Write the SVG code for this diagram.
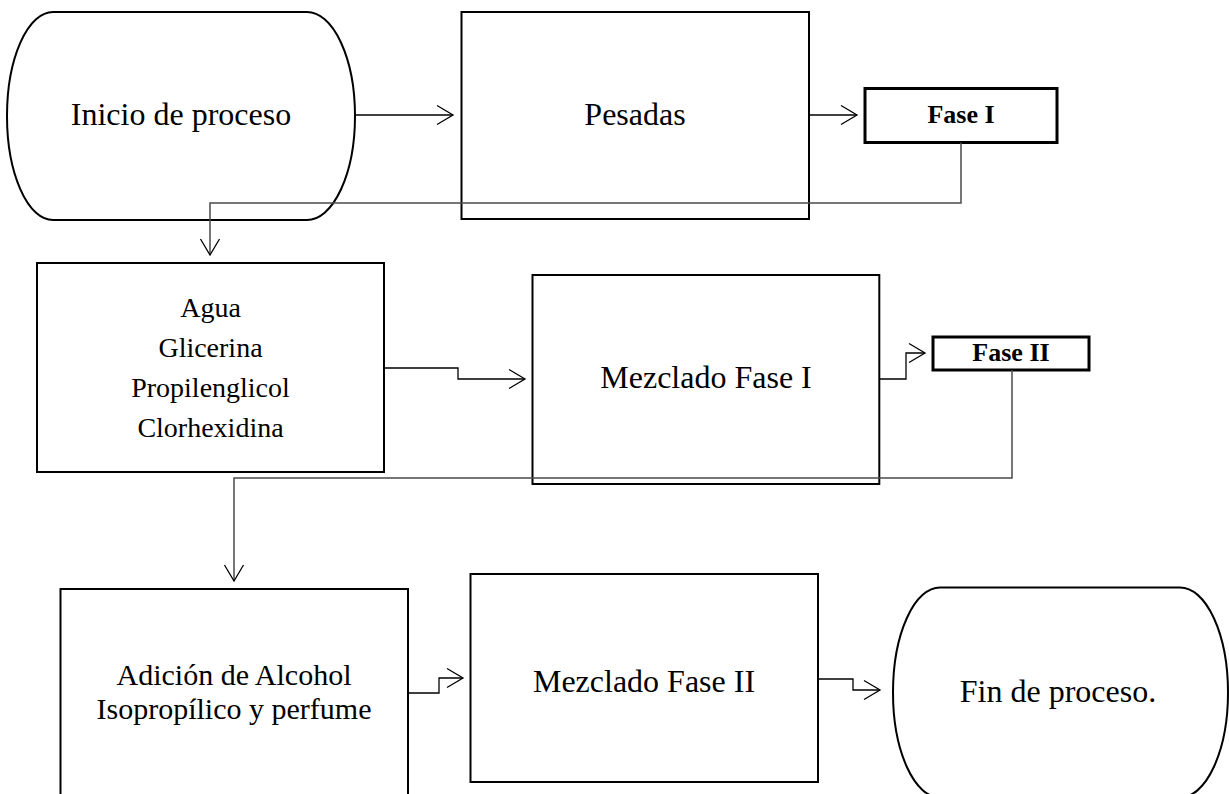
<svg xmlns="http://www.w3.org/2000/svg" width="1229" height="794" viewBox="0 0 1229 794">
  <style>
    .box { fill: #fff; stroke: #000; stroke-width: 2; }
    .tag { fill: #fff; stroke: #000; stroke-width: 3; }
    .lbl { font-family: "Liberation Serif", "Times New Roman", serif; font-size: 32px; fill: #000; text-anchor: middle; }
    .sm { font-size: 28px; }
    .mid { font-size: 30px; }
    .bold { font-family: "Liberation Serif", "Times New Roman", serif; font-size: 26px; font-weight: bold; fill: #000; text-anchor: middle; }
    .arrow { fill: none; stroke: #000; stroke-width: 1.3; marker-end: url(#open); }
    .link { fill: none; stroke: #4a4a4a; stroke-width: 1.5; marker-end: url(#open); }
  </style>
  <defs>
    <marker id="open" markerUnits="userSpaceOnUse" markerWidth="20" markerHeight="22" viewBox="-18 -11 20 22" refX="0" refY="0" orient="auto" overflow="visible">
      <path d="M-16,-9.5 L0,0 L-16,9.5" fill="none" stroke="#000" stroke-width="1.3"/>
    </marker>
  </defs>

  <rect width="1229" height="794" fill="#fff"/>

  <g id="inicio">
    <path class="box" d="M53,12 H307 A48,104 0 0 1 307,220 H53 A46,104 0 0 1 53,12 Z"/>
    <text class="lbl" x="181" y="125">Inicio de proceso</text>
  </g>

  <g id="pesadas">
    <rect class="box" x="461.5" y="12" width="347.5" height="207"/>
    <text class="lbl" x="635" y="125">Pesadas</text>
  </g>

  <g id="fase1">
    <rect class="tag" x="865" y="88.5" width="192" height="54"/>
    <text class="bold" x="961" y="123">Fase I</text>
  </g>

  <g id="ingredientes">
    <rect class="box" x="37" y="263" width="347" height="209"/>
    <text class="lbl sm" x="210.5" y="317">Agua</text>
    <text class="lbl sm" x="210.5" y="357">Glicerina</text>
    <text class="lbl sm" x="210.5" y="397">Propilenglicol</text>
    <text class="lbl sm" x="210.5" y="437">Clorhexidina</text>
  </g>

  <g id="mezclado1">
    <rect class="box" x="532.5" y="275" width="346.8" height="209"/>
    <text class="lbl" x="706" y="388">Mezclado Fase I</text>
  </g>

  <g id="fase2">
    <rect class="tag" x="933" y="337" width="156" height="33"/>
    <text class="bold" x="1011" y="361">Fase II</text>
  </g>

  <g id="adicion">
    <rect class="box" x="60.5" y="589" width="347.5" height="215"/>
    <text class="lbl mid" x="234" y="685">Adición de Alcohol</text>
    <text class="lbl mid" x="234" y="719">Isopropílico y perfume</text>
  </g>

  <g id="mezclado2">
    <rect class="box" x="470.5" y="574" width="347.5" height="208"/>
    <text class="lbl" x="644" y="692">Mezclado Fase II</text>
  </g>

  <g id="fin">
    <path class="box" d="M940,587.5 H1180 A48,105 0 0 1 1180,797.5 H940 A47,105 0 0 1 940,587.5 Z"/>
    <text class="lbl" x="1058" y="702">Fin de proceso.</text>
  </g>

  <g id="connectors">
    <path class="arrow" d="M355,115 H453"/>
    <path class="arrow" d="M809,115 H857"/>
    <path class="link" d="M961,142.5 V203 H210 V255"/>
    <path class="arrow" d="M384,368 H458 V379 H525"/>
    <path class="arrow" d="M879.3,379 H906 V353 H925"/>
    <path class="link" d="M1012,370 V478 H234 V581"/>
    <path class="arrow" d="M408,693 H439 V678 H463"/>
    <path class="arrow" d="M818,679 H853 V690 H880"/>
  </g>
</svg>
